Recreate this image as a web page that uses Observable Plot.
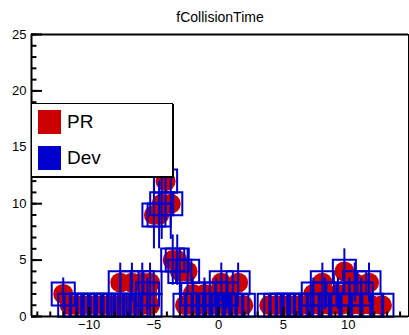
<!DOCTYPE html>
<html><head><meta charset="utf-8">
<script src="https://cdn.jsdelivr.net/npm/d3@7"></script>
<script src="https://cdn.jsdelivr.net/npm/@observablehq/plot@0.6"></script>
<style>
body{margin:0;background:#fff;}
#wrap{position:relative;width:409px;height:335px;font-family:"Liberation Sans",Arial,sans-serif;}
#legend{position:absolute;left:31px;top:103px;width:140px;height:72px;border:1px solid #000;box-shadow:1px 1px 0 #000;background:#fff;}
.sw{position:absolute;left:6px;width:23px;height:24px;}
.lt{position:absolute;left:35px;font-size:19px;line-height:24px;color:#000;}
</style></head>
<body><div id="wrap"></div>
<script>
const title = "fCollisionTime";
const seriesNames = ["PR", "Dev"];
const prX = [-12.0,-11.5,-11.0,-10.5,-10.0,-9.5,-9.0,-8.5,-8.0,-7.4,-6.9,-6.4,-5.9,-5.3,-5.5,-7.6,-6.7,-5.9,-5.3,-5.0,-4.6,-4.4,-3.7,-4.1,-3.55,-3.2,-3.0,-2.4,
  -2.6,-2.1,-1.6,-1.1,-0.6,-0.1,0.4,0.9,1.4,1.9,-2.0,-1.1,-0.2,0.6,0.2,1.5,
  3.9,4.4,4.9,5.4,5.9,6.4,7.1,7.8,8.6,9.4,10.2,11.0,11.8,12.6,7.3,8.2,9.2,10.1,11.0,8.0,10.5,11.6,9.7];
const prY = [2,1,1,1,1,1,1,1,1,1,1,1,1,1,2,3,3,3,3,9,9,10,10,12,5,5,4,4,
  1,1,1,1,1,1,1,1,1,1,2,2,2,2,3,3,
  1,1,1,1,1,1,1,1,1,1,1,1,1,1,2,2,2,2,2,3,3,3,4];
const devX = prX.slice();
const devY = prY.slice();
const xDomain = [-14.45, 14.65];
const yDomain = [0, 25];
const xMajor = [-10, -5, 0, 5, 10];
const xMinor = d3.range(-14, 15);
const yMajor = [0, 5, 10, 15, 20, 25];
const yMinor = d3.range(0, 26);
const red = "#cc0000", blue = "#0000cc";

const pr = prX.map((x, i) => ({x, y: prY[i]}));
const dev = devX.map((x, i) => ({x, y: devY[i], lo: devY[i] - Math.sqrt(devY[i]), hi: devY[i] + Math.sqrt(devY[i])}));

const chart = Plot.plot({
  width: 409, height: 335,
  marginLeft: 31, marginRight: 1, marginTop: 34, marginBottom: 19,
  x: {domain: xDomain},
  y: {domain: yDomain},
  style: {fontFamily: "'Liberation Sans', Arial, sans-serif", fontSize: "13px", background: "#fff", color: "#000"},
  marks: [
    Plot.dot(pr, {x: "x", y: "y", r: 10, fill: red}),
    Plot.ruleX(dev, {x: "x", y1: "lo", y2: "hi", stroke: blue, strokeWidth: 2}),
    Plot.dot(dev, {x: "x", y: "y", symbol: "square", r: 13, stroke: blue, strokeWidth: 2, fill: "none"}),
    Plot.ruleX(xMinor, {x: d => d, y1: 0, y2: 0.4, stroke: "#000", strokeWidth: 2}),
    Plot.ruleX(xMajor, {x: d => d, y1: 0, y2: 0.8, stroke: "#000", strokeWidth: 2}),
    Plot.ruleY(yMinor, {y: d => d, x1: xDomain[0], x2: xDomain[0] + 0.42, stroke: "#000", strokeWidth: 2}),
    Plot.ruleY(yMajor, {y: d => d, x1: xDomain[0], x2: xDomain[0] + 0.85, stroke: "#000", strokeWidth: 2}),
    Plot.axisX({ticks: xMajor, tickSize: 0, tickPadding: 3, fontSize: 13, label: null}),
    Plot.axisY({ticks: yMajor, tickSize: 0, tickPadding: 5, fontSize: 13, label: null}),
    Plot.frame({stroke: "#000", strokeWidth: 1}),
    Plot.ruleY([0], {stroke: "#000", strokeWidth: 2}),
    Plot.ruleX([xDomain[0]], {stroke: "#000", strokeWidth: 2}),
    Plot.ruleY([25], {stroke: "#000", strokeWidth: 2}),
    Plot.text([title], {frameAnchor: "top", dy: -22, fontSize: 14})
  ]
});
const wrap = document.getElementById("wrap");
wrap.appendChild(chart);
const leg = document.createElement("div");
leg.id = "legend";
leg.innerHTML =
  `<div class="sw" style="top:6px;background:${red}"></div><div class="lt" style="top:6px">${seriesNames[0]}</div>` +
  `<div class="sw" style="top:42px;background:${blue}"></div><div class="lt" style="top:42px">${seriesNames[1]}</div>`;
wrap.appendChild(leg);
</script>
</body></html>
